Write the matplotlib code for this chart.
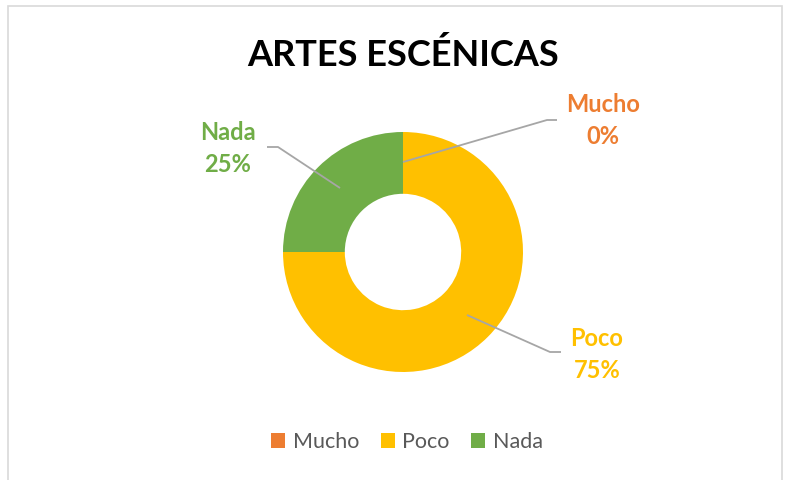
import numpy as np
import matplotlib.pyplot as plt
from matplotlib.patches import Rectangle, Patch

# data
categories = ['Mucho', 'Poco', 'Nada']
values = [0, 75, 25]
colors = ['#ED7D31', '#FFC000', '#70AD47']
title = 'ARTES ESCÉNICAS'

W, H = 786, 480
plt.rcParams['font.family'] = ['Lato', 'DejaVu Sans']

fig = plt.figure(figsize=(W / 100, H / 100), dpi=100)
ax = fig.add_axes([0, 0, 1, 1])


def py(y):
    # pixel row (from top) -> data y
    return H - y


# donut
cx, cy, r = 403, py(252), 120
wedges, _ = ax.pie(values, colors=colors, startangle=90, counterclock=False,
                   radius=r, center=(cx, cy),
                   wedgeprops=dict(width=r * 0.515, linewidth=0))

ax.set_xlim(0, W)
ax.set_ylim(0, H)
ax.set_aspect('equal')
ax.axis('off')

# border of the chart area
fig.patches.append(Rectangle((8, -10), 774, H - 6 + 10, transform=None,
                             fill=False, edgecolor='#D9D9D9', linewidth=1.2))

ax.text(403, py(55), title, ha='center', va='center', fontsize=26,
        fontweight='bold', color='black')

# data labels with leader lines
label_pos = {'Mucho': (603, 121), 'Poco': (597, 354), 'Nada': (228, 148)}
leaders = {
    'Mucho': [(403, 162), (547, 120), (557, 120)],
    'Poco': [(467, 315), (550, 352), (561, 352)],
    'Nada': [(340, 188), (278, 147), (267, 147)],
}
total = sum(values)
for name, val, col in zip(categories, values, colors):
    pts = leaders[name]
    ax.plot([p[0] for p in pts], [py(p[1]) for p in pts], color='#A6A6A6',
            linewidth=1.3, solid_capstyle='butt')
    lx, ly = label_pos[name]
    ax.text(lx, py(ly - 16), name, ha='center', va='center', fontsize=17,
            fontweight='bold', color=col)
    ax.text(lx, py(ly + 16), '%d%%' % round(100 * val / total), ha='center',
            va='center', fontsize=17, fontweight='bold', color=col)

handles = [Patch(facecolor=c, edgecolor='none') for c in colors]
leg = ax.legend(handles, categories, loc='center', bbox_to_anchor=(407, py(442)),
                bbox_transform=ax.transData, ncol=3, frameon=False,
                fontsize=15.5, handlelength=0.65, handleheight=0.65,
                handletextpad=0.35, columnspacing=1.0)
for t in leg.get_texts():
    t.set_color('#595959')

fig.savefig('out.png', dpi=100)
